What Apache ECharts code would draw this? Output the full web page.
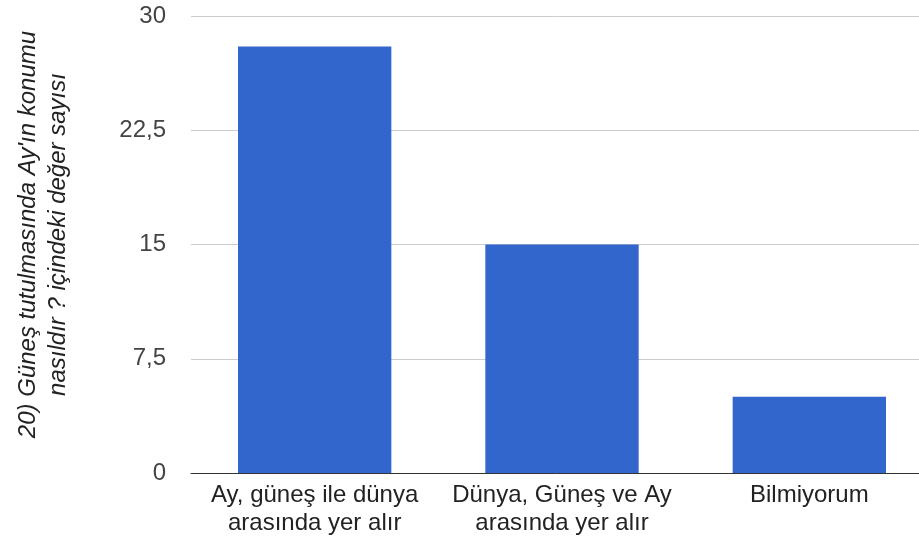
<!DOCTYPE html>
<html>
<head>
<meta charset="utf-8">
<script src="https://cdn.jsdelivr.net/npm/echarts@6/dist/echarts.min.js"></script>
<style>html,body{margin:0;padding:0;background:#fff}#c{width:919px;height:540px}</style>
</head>
<body>
<div id="c"></div>
<script>
const categories = ["Ay, güneş ile dünya\narasında yer alır", "Dünya, Güneş ve Ay\narasında yer alır", "Bilmiyorum"];
const values = [28, 15, 5];
const yTicks = [0, 7.5, 15, 22.5, 30];
const yAxisTitle = "20) Güneş tutulmasında Ay'ın konumu\nnasıldır ? içindeki değer sayısı";

const FONT = 'Liberation Sans, Arial, sans-serif';
const chart = echarts.init(document.getElementById('c'), null, {renderer: 'canvas'});
chart.setOption({
  animation: false,
  grid: {left: 191, right: -14, top: 16, bottom: 67, outerBoundsMode: 'none', containLabel: false},
  xAxis: {
    type: 'category',
    data: categories,
    axisLine: {lineStyle: {color: '#333', width: 1}},
    axisTick: {show: false},
    axisLabel: {color: '#222', fontSize: 24, fontFamily: FONT, lineHeight: 28, margin: 8, interval: 0, hideOverlap: false}
  },
  yAxis: {
    type: 'value',
    min: yTicks[0],
    max: yTicks[yTicks.length - 1],
    interval: 7.5,
    name: yAxisTitle,
    nameLocation: 'middle',
    nameGap: 118,
    nameRotate: 90,
    nameTextStyle: {color: '#222', fontSize: 24, fontStyle: 'italic', fontFamily: FONT, lineHeight: 30, align: 'center', padding: [0, 0, 0, 20]},
    axisLine: {show: false},
    axisTick: {show: false},
    axisLabel: {color: '#444', fontSize: 24, fontFamily: FONT, margin: 25,
      formatter: v => String(v).replace('.', ',')},
    splitLine: {lineStyle: {color: '#ccc', width: 1}}
  },
  series: [{
    type: 'bar',
    data: values,
    barWidth: '62%',
    itemStyle: {color: '#3366cc'}
  }]
});
</script>
</body>
</html>
